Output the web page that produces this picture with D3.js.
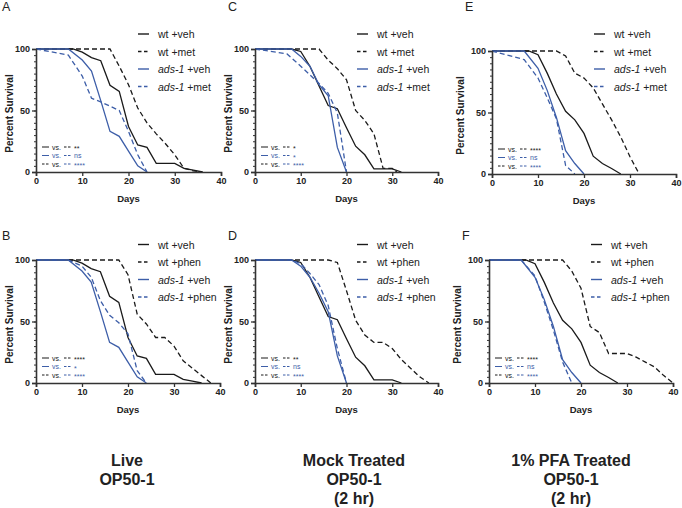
<html>
<script src="https://cdn.jsdelivr.net/npm/d3@7"></script>
<body style="margin:0;background:#fff;">
<svg id="chart" width="682" height="508"></svg>
<script>

// survival curves, [day, percent survival]
const ctrlWtVehLive = [[0,100],[8,100],[10,97.5],[12,93],[14,90.5],[16,70.5],[18,65.5],[20,37],[22,22],[24,20],[26,7],[30,7],[32,3],[34,1.5],[36,0]];
const ctrlAdsVehLive = [[0,100],[7,100],[10,91],[12,82],[14,58],[16,33],[18,29],[20,17],[22,5],[24,0]];
const liveWtMet = [[0,100],[16,100],[18,86],[20,71],[22,52],[24,40],[26,31],[28,23],[30,14],[32,3],[34,1],[36,0]];
const liveAdsMet = [[0,100],[7,95],[10,78],[12,60],[14,57],[18,50],[20,33],[22,14],[24,0]];
const liveWtPhen = [[0,100],[18,100],[20,88],[22,56],[24,48],[26,37],[28,37],[30,30],[32,18],[34,12],[36,6],[38,0]];
const liveAdsPhen = [[0,100],[7,100],[10,95],[12,86],[14,67],[16,55],[18,49],[20,40],[22,10],[24,0]];

const ctrlWtVehMock = [[0,100],[8,100],[10,98],[12,86],[14,70],[16,54],[18,51.5],[20,36],[22,21],[24,14],[26,2.5],[30,2.5],[32,0]];
const mockAdsVehMet = [[0,100],[8,100],[10,94],[12,86],[14,71],[16,62],[18,20],[20,0]];
const mockWtMet = [[0,100],[14,100],[16,91],[18,84],[20,75],[22,50],[24,42],[26,31],[28,3],[30,3],[31,0]];
const mockAdsMet = [[0,100],[7,96],[10,86],[12,79],[14,72],[16,64],[18,48],[20,0]];
const mockAdsVehPhen = [[0,100],[8,100],[10,95],[12,86],[14,73],[16,58],[18,22],[20,0]];
const mockWtPhen = [[0,100],[16,100],[18,98],[20,75],[22,51],[24,39],[26,33],[28,33],[30,28],[32,19],[34,12],[36,5],[38,0]];
const mockAdsPhen = [[0,100],[8,100],[10,97],[12,89],[14,80],[16,63],[18,28],[20,0]];

const ctrlWtVehPfa = [[0,100],[8,100],[10,97],[12,82],[14,65],[16,51],[18,44],[20,33],[22,14.5],[24,8.5],[26,4.5],[28,0]];
const ctrlAdsVehPfa = [[0,100],[7,100],[10,86],[12,68],[14,46],[16,19],[18,8.5],[20,0]];
const pfaWtMet = [[0,100],[14,100],[16,96],[18,82],[20,78],[22,70],[24,57],[26,44],[28,30],[30,14],[32,0]];
const pfaAdsMet = [[0,100],[7,93],[10,78],[12,62],[14,45],[16,7],[18,0]];
const pfaWtPhen = [[0,100],[16,100],[18,91],[20,77],[22,46],[24,41],[26,24],[30,24],[32,21],[34,17],[36,13],[38,6],[40,0]];
const pfaAdsPhen = [[0,100],[7,100],[10,87],[12,66],[14,43],[16,17],[18,0]];

const metLegend = [["wt", " +veh"], ["wt", " +met"], ["ads-1", " +veh"], ["ads-1", " +met"]];
const phenLegend = [["wt", " +veh"], ["wt", " +phen"], ["ads-1", " +veh"], ["ads-1", " +phen"]];

const sigA = ["**", "ns", "****"];
const sigB = ["****", "*", "****"];
const sigC = ["*", "*", "****"];
const sigD = ["**", "ns", "****"];
const sigE = ["****", "ns", "****"];
const sigF = ["****", "ns", "****"];

const xTicks = [0, 10, 20, 30, 40];
const yTicks = [0, 50, 100];
const titles = [["Live", "OP50-1"], ["Mock Treated", "OP50-1", "(2 hr)"], ["1% PFA Treated", "OP50-1", "(2 hr)"]];

const black = "#1a1a1a";
const blue = "#3d5ea8";
const font = "Liberation Sans, Arial, sans-serif";

const panels = [
    { letter: "A", x0: 36, x1: 221, yt: 49, yb: 172, series: [ctrlWtVehLive, liveWtMet, ctrlAdsVehLive, liveAdsMet], legend: metLegend, sig: sigA, lab: 27 },
    { letter: "B", x0: 36, x1: 220, yt: 260, yb: 383, series: [ctrlWtVehLive, liveWtPhen, ctrlAdsVehLive, liveAdsPhen], legend: phenLegend, sig: sigB, lab: 27 },
    { letter: "C", x0: 255, x1: 438, yt: 49, yb: 172, series: [ctrlWtVehMock, mockWtMet, mockAdsVehMet, mockAdsMet], legend: metLegend, sig: sigC, lab: 27 },
    { letter: "D", x0: 255, x1: 438, yt: 260, yb: 383, series: [ctrlWtVehMock, mockWtPhen, mockAdsVehPhen, mockAdsPhen], legend: phenLegend, sig: sigD, lab: 27 },
    { letter: "E", x0: 492, x1: 676, yt: 51, yb: 174, series: [ctrlWtVehPfa, pfaWtMet, ctrlAdsVehPfa, pfaAdsMet], legend: metLegend, sig: sigE, lab: 32 },
    { letter: "F", x0: 489, x1: 673, yt: 260, yb: 383, series: [ctrlWtVehPfa, pfaWtPhen, ctrlAdsVehPfa, pfaAdsPhen], legend: phenLegend, sig: sigF, lab: 32 }
];

// style of each of the 4 series: wt veh, wt drug, ads-1 veh, ads-1 drug
const colors = [black, black, blue, blue];
const dashes = [null, "5,3", null, "5,3"];

const svg = d3.select("#chart");

panels.forEach(p => {
    const x = d3.scaleLinear().domain([0, 40]).range([p.x0, p.x1]);
    const y = d3.scaleLinear().domain([0, 100]).range([p.yb, p.yt]);
    const g = svg.append("g");

    // panel letter
    svg.append("text")
        .attr("x", p.x0 < 100 ? 2 : p.x0 - 27)
        .attr("y", p.yt < 100 ? 11 : 240)
        .attr("font-family", font)
        .attr("font-size", 12.5)
        .attr("fill", "#222")
        .text(p.letter);

    // curves
    const line = d3.line().x(d => x(d[0])).y(d => y(d[1]));
    p.series.forEach((s, i) => {
        g.append("path")
            .attr("d", line(s))
            .attr("fill", "none")
            .attr("stroke", colors[i])
            .attr("stroke-width", 1.3)
            .attr("stroke-dasharray", dashes[i]);
    });

    // axes
    const yMinor = g.append("g")
        .attr("transform", `translate(${p.x0},0)`)
        .call(d3.axisLeft(y).tickValues(d3.range(0, 101, 5)).tickSize(2).tickFormat(""));
    yMinor.select(".domain").remove();
    yMinor.selectAll("line").attr("stroke", "#333");

    const yAxis = g.append("g")
        .attr("transform", `translate(${p.x0},0)`)
        .call(d3.axisLeft(y).tickValues(yTicks).tickSize(4).tickPadding(2));
    const xAxis = g.append("g")
        .attr("transform", `translate(0,${p.yb})`)
        .call(d3.axisBottom(x).tickValues(xTicks).tickSize(4).tickPadding(2));

    [xAxis, yAxis].forEach(a => {
        a.select(".domain").attr("stroke", "#333").attr("stroke-width", 1.6);
        a.selectAll(".tick line").attr("stroke", "#333").attr("stroke-width", 1.3);
        a.selectAll("text")
            .attr("font-family", font)
            .attr("font-weight", "bold")
            .attr("font-size", 9)
            .attr("fill", "#222");
    });

    // axis titles
    g.append("text")
        .attr("x", (p.x0 + p.x1) / 2)
        .attr("y", p.yb + 30)
        .attr("text-anchor", "middle")
        .attr("font-family", font)
        .attr("font-weight", "bold")
        .attr("font-size", 9.5)
        .attr("fill", "#222")
        .text("Days");

    g.append("text")
        .attr("transform", `translate(${p.x0 - p.lab},${(p.yt + p.yb) / 2 + 3}) rotate(-90)`)
        .attr("text-anchor", "middle")
        .attr("dominant-baseline", "central")
        .attr("font-family", font)
        .attr("font-weight", "bold")
        .attr("font-size", 10)
        .attr("fill", "#222")
        .text("Percent Survival");

    // legend
    const ly0 = p.yt < 100 ? 34 : 244.5;
    p.legend.forEach((d, i) => {
        const ly = ly0 + i * 17.5;
        g.append("line")
            .attr("x1", p.x0 + 102).attr("x2", p.x0 + 113)
            .attr("y1", ly).attr("y2", ly)
            .attr("stroke", colors[i])
            .attr("stroke-width", 1.4)
            .attr("stroke-dasharray", dashes[i] ? "3.5,2.5" : null);
        const t = g.append("text")
            .attr("x", p.x0 + 122)
            .attr("y", ly)
            .attr("dominant-baseline", "central")
            .attr("font-family", font)
            .attr("font-size", 10.5)
            .attr("fill", "#222");
        t.append("tspan").attr("font-style", i > 1 ? "italic" : "normal").text(d[0]);
        t.append("tspan").text(d[1]);
    });

    // significance key
    const pairs = [[0, 1], [2, 3], [1, 3]];
    pairs.forEach((pr, i) => {
        const sy = p.yb - 25 + i * 8.5;
        [[6, 13, pr[0]], [28, 35, pr[1]]].forEach(seg => {
            g.append("line")
                .attr("x1", p.x0 + seg[0]).attr("x2", p.x0 + seg[1])
                .attr("y1", sy).attr("y2", sy)
                .attr("stroke", colors[seg[2]])
                .attr("stroke-width", 1)
                .attr("stroke-dasharray", dashes[seg[2]] ? "2.5,1.5" : null);
        });
        g.append("text")
            .attr("x", p.x0 + 16).attr("y", sy)
            .attr("dominant-baseline", "central")
            .attr("font-family", font).attr("font-size", 7)
            .attr("fill", colors[pr[0]])
            .text("vs.");
        g.append("text")
            .attr("x", p.x0 + 38).attr("y", sy + (p.sig[i].startsWith("*") ? 1.5 : 0))
            .attr("dominant-baseline", "central")
            .attr("font-family", font).attr("font-size", 7)
            .attr("fill", colors[pr[1]])
            .text(p.sig[i]);
    });
});

// condition titles
const titleX = [127, 354, 571];
titles.forEach((lines, i) => {
    lines.forEach((s, j) => {
        svg.append("text")
            .attr("x", titleX[i])
            .attr("y", 466 + j * 19)
            .attr("text-anchor", "middle")
            .attr("font-family", font)
            .attr("font-weight", "bold")
            .attr("font-size", 16)
            .attr("fill", "#222")
            .text(s);
    });
});

</script>
</body>
</html>
